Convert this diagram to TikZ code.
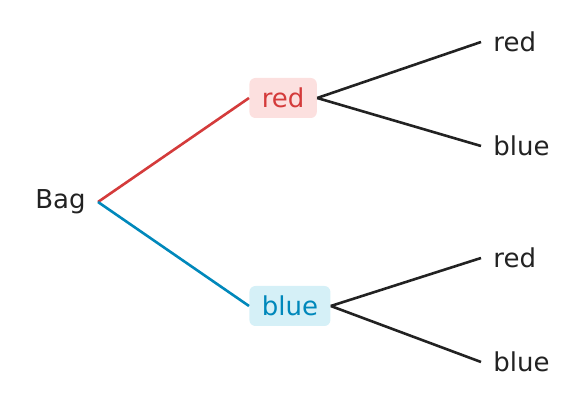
\documentclass[tikz,border=0pt]{standalone}
\usepackage{fontspec}
\setmainfont{DejaVu Sans}
\usetikzlibrary{positioning}
\definecolor{bagred}{HTML}{D43B3B}
\definecolor{redfill}{HTML}{FCE0DF}
\definecolor{bagblue}{HTML}{0088BB}
\definecolor{bluefill}{HTML}{D5F0F7}
\definecolor{ink}{HTML}{222222}
\begin{document}
\begin{tikzpicture}[x=0.5pt, y=-0.5pt, font=\fontsize{13}{15}\selectfont, text=ink,
    leaf/.style={inner sep=6pt},
    pick/.style={rounded corners=3pt, inner xsep=6.2pt, minimum height=20pt},
    branch/.style={line width=1.3pt}]
      \useasboundingbox (0,0) rectangle (584,405);
      \node[leaf, anchor=east] (bag) at (98,202) {Bag};
      \node[pick, fill=redfill, text=bagred, right=75.5pt of bag, yshift=52pt] (red) {red};
      \node[pick, fill=bluefill, text=bagblue, right=75.5pt of bag, yshift=-52pt] (blue) {blue};
      \node[leaf, right=191.5pt of bag, yshift=80pt] (redred) {red};
      \node[leaf, right=191.5pt of bag, yshift=28pt] (redblue) {blue};
      \node[leaf, right=191.5pt of bag, yshift=-28pt] (bluered) {red};
      \node[leaf, right=191.5pt of bag, yshift=-80pt] (blueblue) {blue};

      \draw[branch, bagred] (bag.east) -- (red.west);
      \draw[branch, bagblue] (bag.east) -- (blue.west);
      \draw[branch, ink] (red.east) -- (redred.west);
      \draw[branch, ink] (red.east) -- (redblue.west);
      \draw[branch, ink] (blue.east) -- (bluered.west);
      \draw[branch, ink] (blue.east) -- (blueblue.west);
    \end{tikzpicture}
\end{document}
